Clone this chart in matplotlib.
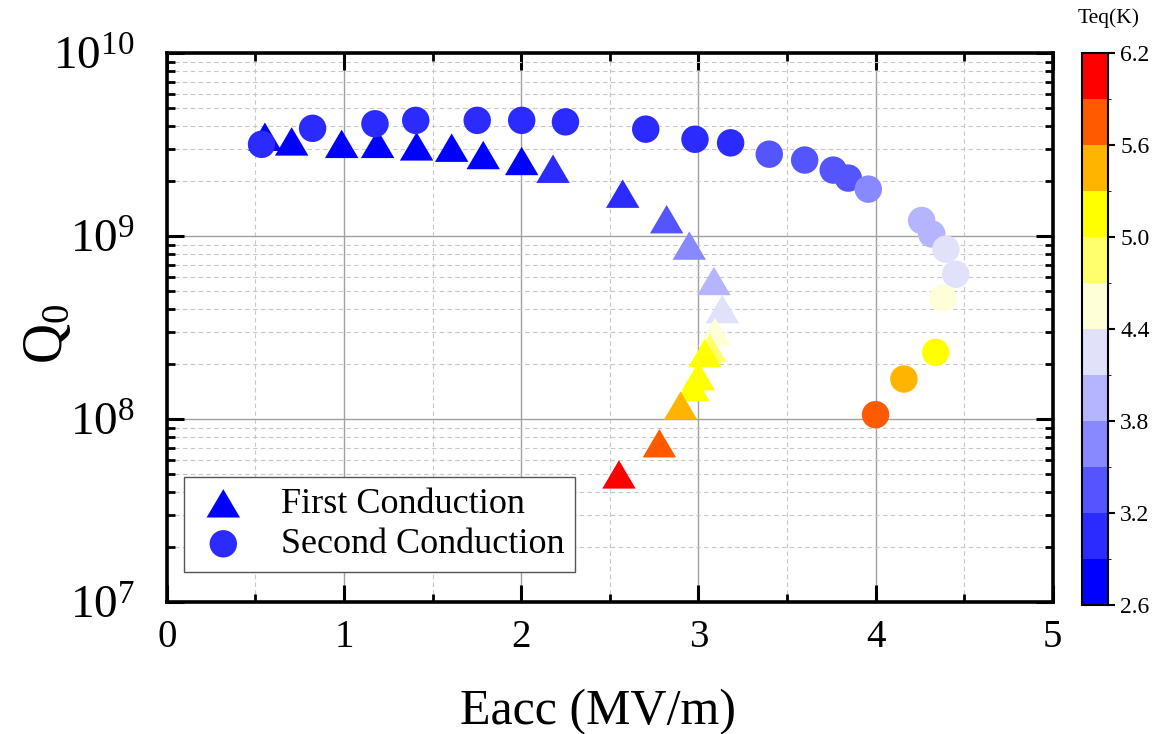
import numpy as np
import matplotlib
matplotlib.use("Agg")
import matplotlib.pyplot as plt
from matplotlib.colors import ListedColormap, BoundaryNorm
from matplotlib.ticker import FixedLocator, FuncFormatter, LogLocator, NullFormatter, MultipleLocator

plt.rcParams['font.family'] = ['Liberation Serif', 'DejaVu Serif']
plt.rcParams['mathtext.fontset'] = 'custom'
plt.rcParams['mathtext.rm'] = 'Liberation Serif'
plt.rcParams['mathtext.it'] = 'Liberation Serif:italic'

# ---- data ----
first_eacc = [0.554, 0.705, 0.987, 1.19, 1.41, 1.608, 1.786, 2.003, 2.18, 2.573,
              2.821, 2.949, 3.088, 3.135, 3.094, 3.065, 3.037, 3.0, 2.97, 2.90, 2.78, 2.552]
first_q0 = [3.5e9, 3.3e9, 3.2e9, 3.2e9, 3.1e9, 3.05e9, 2.78e9, 2.58e9, 2.34e9, 1.71e9,
            1.24e9, 8.9e8, 5.7e8, 4.0e8, 3.0e8, 2.45e8, 2.3e8, 1.72e8, 1.5e8, 1.19e8, 7.4e7, 5.0e7]
first_teq = [2.7, 2.7, 2.7, 2.7, 2.7, 2.7, 2.7, 2.7, 3.0, 3.0,
             3.3, 3.6, 3.9, 4.2, 4.5, 4.8, 5.1, 5.1, 5.1, 5.4, 5.7, 6.0]

second_eacc = [0.535, 0.823, 1.175, 1.405, 1.752, 2.003, 2.25, 2.703, 2.981, 3.182,
               3.40, 3.60, 3.761, 3.846, 3.959, 4.26, 4.317, 4.397, 4.452, 4.379,
               4.339, 4.16, 4.0]
second_q0 = [3.18e9, 3.89e9, 4.12e9, 4.3e9, 4.3e9, 4.3e9, 4.22e9, 3.85e9, 3.39e9, 3.24e9,
             2.81e9, 2.61e9, 2.30e9, 2.08e9, 1.81e9, 1.22e9, 1.03e9, 8.5e8, 6.2e8, 4.6e8,
             2.32e8, 1.66e8, 1.06e8]
second_teq = [3.0, 3.0, 3.0, 3.0, 3.0, 3.0, 3.0, 3.0, 3.0, 3.0,
              3.3, 3.3, 3.3, 3.3, 3.6, 3.9, 3.9, 4.2, 4.2, 4.5,
              5.1, 5.4, 5.7]

teq_bounds = [2.6, 2.9, 3.2, 3.5, 3.8, 4.1, 4.4, 4.7, 5.0, 5.3, 5.6, 5.9, 6.2]
teq_colors = ['#0000ff', '#2b2bff', '#5555ff', '#8888ff', '#b4b4ff', '#e1e1fa',
              '#ffffd7', '#ffff6e', '#ffff00', '#ffb400', '#ff5a00', '#ff0000']
cbar_ticks = [2.6, 3.2, 3.8, 4.4, 5.0, 5.6, 6.2]
x_ticks = [0, 1, 2, 3, 4, 5]

cmap = ListedColormap(teq_colors)
norm = BoundaryNorm(teq_bounds, cmap.N)

fig = plt.figure(figsize=(11.62, 7.34), dpi=100)
ax = fig.add_axes([0.1435, 0.1794, 0.7625, 0.748])

ax.set_xlim(0, 5)
ax.set_ylim(1e7, 1e10)
ax.set_yscale('log')

# grid
ax.set_axisbelow(True)
ax.grid(True, which='major', color='#a0a0a0', linewidth=1.0, linestyle='-')
ax.grid(True, which='minor', color='#c8c8c8', linewidth=0.8, linestyle=(0, (4, 3)))

tri_marker = [(0, 0.85), (-1, -0.85), (1, -0.85), (0, 0.85)]
ax.scatter(first_eacc, first_q0, c=first_teq, cmap=cmap, norm=norm,
           marker=tri_marker, s=580, linewidths=0, label='First Conduction', zorder=3)
sc = ax.scatter(second_eacc, second_q0, c=second_teq, cmap=cmap, norm=norm,
                marker='o', s=390, linewidths=0, label='Second Conduction', zorder=3)

ax.xaxis.set_major_locator(FixedLocator(x_ticks))
ax.xaxis.set_minor_locator(MultipleLocator(0.5))
ax.yaxis.set_major_locator(LogLocator(base=10, numticks=10))
ax.yaxis.set_minor_locator(LogLocator(base=10, subs=np.arange(2, 10), numticks=20))
ax.yaxis.set_minor_formatter(NullFormatter())
ax.yaxis.set_major_formatter(FuncFormatter(lambda v, p: r'$\mathregular{10^{%d}}$' % int(round(np.log10(v)))))

ax.tick_params(which='both', direction='in', top=True, right=True, colors='black')
ax.tick_params(which='major', length=12, width=2.2)
ax.tick_params(which='minor', length=6, width=2.0)
ax.tick_params(axis='x', which='major', pad=12, labelsize=28)
ax.tick_params(axis='y', which='major', pad=23, labelsize=34)
for s in ax.spines.values():
    s.set_linewidth(2.6)

ax.set_xlabel('Eacc (MV/m)', fontsize=36)
ax.xaxis.set_label_coords(0.487, -0.158)
ax.set_ylabel(r'Q$_0$', fontsize=40)
ax.yaxis.set_label_coords(-0.105, 0.49)

leg = ax.legend(loc='lower left', bbox_to_anchor=(0.019, 0.055), fontsize=26,
                frameon=True, fancybox=False, edgecolor='#555555', framealpha=1,
                handletextpad=0.8, borderpad=0.3, labelspacing=0.2, handlelength=1.6,
                borderaxespad=0)
leg.get_frame().set_linewidth(1.0)

# colorbar
cax = fig.add_axes([0.9309, 0.1757, 0.0229, 0.7516])
cb = fig.colorbar(sc, cax=cax, ticks=cbar_ticks, boundaries=teq_bounds)
cb.ax.set_yticklabels(['%.1f' % t for t in cbar_ticks])
cb.ax.tick_params(labelsize=17, length=5, width=1.5, direction='out')
cb.outline.set_linewidth(1.5)
fig.text(0.954, 0.975, 'Teq(K)', fontsize=15.5, ha='center', va='center')

fig.savefig('out.png', dpi=100)
